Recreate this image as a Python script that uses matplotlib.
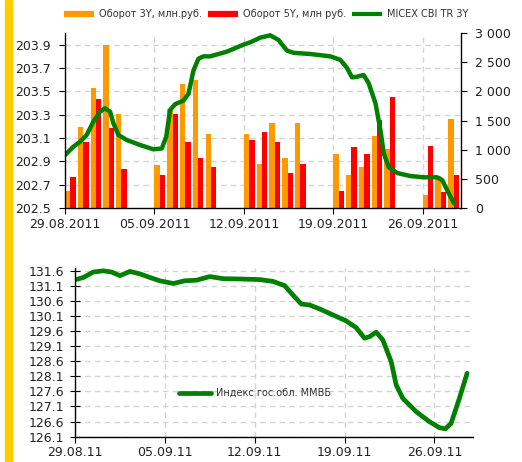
import numpy as np
import pandas as pd
import matplotlib
matplotlib.use('Agg')
import matplotlib.pyplot as plt
import matplotlib.dates as mdates
from matplotlib.lines import Line2D
from matplotlib.ticker import FuncFormatter, FixedLocator
import matplotlib.transforms as mtransforms

# trading days shown with volume bars
trade_days = pd.bdate_range('2011-08-29', '2011-09-28')
vol_3y = [287, 1393, 2064, 2792, 1611,
          740, 1700, 2133, 2190, 1261,
          1261, 755, 1458, 862, 1458,
          918, 565, 695, 1240, 1014,
          229, 545, 1530]
vol_5y = [533, 1130, 1875, 1370, 665,
          568, 1617, 1130, 849, 705,
          1160, 1308, 1138, 600, 755,
          285, 1048, 918, 1504, 1908,
          1070, 268, 565]

# MICEX CBI TR 3Y (days after 29.08.2011, value)
micex_t = [0, 0.65, 1.18, 1.7, 2.22, 2.74, 3.13, 3.53, 3.79, 4.18, 4.83, 5.88,
           6.92, 7.58, 7.92, 8.23, 8.62, 9.27, 9.67, 10.06, 10.45, 10.84, 11.36,
           12.67, 13.97, 14.5, 15.28, 16.07, 16.72, 17.37, 17.9, 19.2, 20.77,
           21.55, 22.08, 22.47, 22.86, 23.38, 23.77, 24.3, 24.69, 24.95, 25.34,
           26.0, 27.04, 28.08, 29.13, 29.52, 30.04, 30.45]
micex_v = [202.954, 203.025, 203.068, 203.126, 203.24, 203.325, 203.355, 203.325,
           203.226, 203.126, 203.083, 203.04, 203.003, 203.01, 203.11, 203.34,
           203.39, 203.42, 203.48, 203.68, 203.78, 203.80, 203.80, 203.84, 203.90,
           203.92, 203.96, 203.98, 203.94, 203.85, 203.83, 203.82, 203.80, 203.77,
           203.70, 203.62, 203.625, 203.64, 203.57, 203.40, 203.17, 202.97, 202.85,
           202.80, 202.774, 202.763, 202.763, 202.74, 202.626, 202.54]

# Индекс гос.обл. ММВБ (days after 29.08.2011, value)
gov_t = [0, 0.65, 1.43, 2.2, 2.85, 3.5, 4.28, 5.05, 5.83, 6.61, 7.65, 8.55, 9.46,
         10.5, 11.53, 12.83, 14.39, 15.42, 16.33, 16.97, 17.63, 18.27, 19.05,
         20.09, 21.13, 21.9, 22.55, 22.94, 23.46, 23.98, 24.63, 25.02, 25.53,
         26.57, 27.6, 28.38, 28.85, 29.29, 29.94, 30.54]
gov_v = [131.29, 131.37, 131.55, 131.59, 131.55, 131.43, 131.57, 131.49, 131.37,
         131.26, 131.17, 131.26, 131.28, 131.40, 131.33, 131.32, 131.30, 131.24,
         131.10, 130.79, 130.49, 130.46, 130.33, 130.13, 129.93, 129.71, 129.36,
         129.41, 129.56, 129.30, 128.58, 127.81, 127.37, 126.93, 126.60, 126.40,
         126.36, 126.54, 127.37, 128.20]

week_ticks = pd.date_range('2011-08-29', periods=5, freq='7D')
left_ticks = [202.5, 202.7, 202.9, 203.1, 203.3, 203.5, 203.7, 203.9]
right_ticks = [0, 500, 1000, 1500, 2000, 2500, 3000]
gov_ticks = [126.1, 126.6, 127.1, 127.6, 128.1, 128.6, 129.1, 129.6, 130.1,
             130.6, 131.1, 131.6]

orange = '#ff9900'
red = '#ff0000'
green = '#008000'
grid_col = '#d4d4d4'
txt = '#222222'

plt.rcParams['font.family'] = ['DejaVu Sans']
plt.rcParams['axes.linewidth'] = 1.0

fig = plt.figure(figsize=(5.22, 4.62), dpi=100)
fig.patches.append(plt.Rectangle((5 / 522, 0), 7 / 522, 1, transform=fig.transFigure,
                                 color='#ffcc00', zorder=0))

start = mdates.date2num(pd.Timestamp('2011-08-29'))
x0, x1 = start, start + 31
bar_w = 0.42

# ---- top chart ----
ax = fig.add_axes([65 / 522, 1 - 208 / 462, 396 / 522, 175 / 462])
ax2 = ax.twinx()
ax.set_zorder(2)
ax.patch.set_visible(False)
ax2.set_zorder(1)

days = mdates.date2num(trade_days)
ax2.bar(days, vol_3y, width=bar_w, align='edge', color=orange, zorder=3)
ax2.bar(days + bar_w, vol_5y, width=bar_w, align='edge', color=red, zorder=3)
ax2.set_ylim(0, 3000)
ax2.yaxis.set_major_locator(FixedLocator(right_ticks))
ax2.yaxis.set_major_formatter(FuncFormatter(lambda v, p: '{:,.0f}'.format(v).replace(',', ' ')))

ax.plot(start + np.array(micex_t), micex_v, color=green, lw=3.2,
        solid_capstyle='round', solid_joinstyle='round')
ax.set_ylim(202.5, 204.0)
ax.set_xlim(x0, x1)
ax.yaxis.set_major_locator(FixedLocator(left_ticks))
ax.yaxis.set_major_formatter(FuncFormatter(lambda v, p: '%.1f' % v))
ax.xaxis.set_major_locator(FixedLocator(mdates.date2num(week_ticks)))
ax.xaxis.set_major_formatter(mdates.DateFormatter('%d.%m.%Y'))

# grid behind bars
blend = mtransforms.blended_transform_factory(ax2.transAxes, ax.transData)
for v in left_ticks[1:]:
    ax2.plot([0, 1], [v, v], transform=blend, color=grid_col, lw=1,
             ls=(0, (4, 3)), zorder=0)
for d in mdates.date2num(week_ticks)[1:]:
    ax2.axvline(d, color=grid_col, lw=1, ls=(0, (4, 3)), zorder=0)

for a in (ax, ax2):
    a.spines['top'].set_visible(False)
ax.spines['right'].set_visible(False)
ax2.spines['left'].set_visible(False)
ax2.spines['bottom'].set_visible(False)
ax.tick_params(axis='y', direction='out', length=4, pad=6, labelsize=9, labelcolor=txt)
ax.tick_params(axis='x', direction='out', length=4, pad=3, labelsize=9, labelcolor=txt)
ax2.tick_params(axis='y', direction='out', length=4, pad=6, labelsize=9, labelcolor=txt)

handles = [Line2D([], [], color=orange, lw=4.5, solid_capstyle='butt'),
           Line2D([], [], color=red, lw=4.5, solid_capstyle='butt'),
           Line2D([], [], color=green, lw=3, solid_capstyle='butt')]
labels = ['Оборот 3Y, млн.руб.', 'Оборот 5Y, млн руб.', 'MICEX CBI TR 3Y']
fig.legend(handles, labels, loc='center left', bbox_to_anchor=(64 / 522, 1 - 14 / 462),
           ncol=3, frameon=False, fontsize=7, handlelength=3.1, handletextpad=0.5,
           columnspacing=0.6, borderpad=0, borderaxespad=0, labelcolor='#333333')

# ---- bottom chart ----
axb = fig.add_axes([75 / 522, 1 - 436.7 / 462, 398 / 522, 169.2 / 462])
axb.plot(start + np.array(gov_t), gov_v, color=green, lw=3.4,
         solid_capstyle='round', solid_joinstyle='round', label='Индекс гос.обл. ММВБ')
axb.set_xlim(x0, x1)
axb.set_ylim(126.1, 131.7)
axb.yaxis.set_major_locator(FixedLocator(gov_ticks))
axb.yaxis.set_major_formatter(FuncFormatter(lambda v, p: '%.1f' % v))
axb.xaxis.set_major_locator(FixedLocator(mdates.date2num(week_ticks)))
axb.xaxis.set_major_formatter(mdates.DateFormatter('%d.%m.%y'))
axb.set_axisbelow(True)
axb.grid(True, color=grid_col, lw=1, ls=(0, (4, 3)))
axb.spines['top'].set_visible(False)
axb.spines['right'].set_visible(False)
axb.tick_params(axis='y', direction='inout', length=7, pad=4, labelsize=9, labelcolor=txt)
axb.tick_params(axis='x', direction='out', length=4, pad=3, labelsize=9, labelcolor=txt)
axb.legend(loc='center left', bbox_to_anchor=(0.262, 0.258), frameon=False, fontsize=7,
           handlelength=3.3, handletextpad=0.5, borderpad=0, borderaxespad=0,
           labelcolor='#333333')

fig.savefig('out.png', dpi=100)
